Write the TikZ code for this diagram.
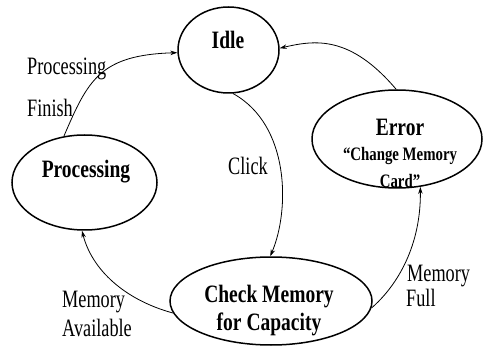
\documentclass[tikz,border=0pt]{standalone}
\usepackage{fontspec}
\usetikzlibrary{shapes.geometric,arrows.meta}
\newfontfamily\lblfont[FakeStretch=0.73]{Liberation Serif}
\newfontfamily\statefont[FakeStretch=0.78]{Liberation Serif}
\tikzset{
  state/.style={ellipse, draw, line width=1.5pt, inner sep=0pt},
  statetext/.style={anchor=base, inner sep=0pt, font=\statefont\bfseries\fontsize{25}{28}\selectfont},
  subtext/.style={anchor=base, inner sep=0pt, font=\statefont\bfseries\fontsize{19}{22}\selectfont},
  edgelabel/.style={anchor=base west, inner sep=0pt, font=\lblfont\fontsize{25}{28}\selectfont},
  trans/.style={line width=0.8pt, -{Stealth[length=7pt,width=4.5pt]}},
}
\begin{document}
\begin{tikzpicture}[x=1pt,y=-1pt]
\useasboundingbox[fill=white] (0,0) rectangle (484,347);

% states
\node[state, minimum width=101pt, minimum height=86pt] (idle) at (228.5,50) {};
\node[state, minimum width=145pt, minimum height=95pt] (proc) at (84.5,182.5) {};
\node[state, minimum width=170pt, minimum height=98pt] (err) at (397,139) {};
\node[state, minimum width=202pt, minimum height=88pt] (check) at (271,301) {};

% state names
\node[statetext] (tidle) at (228,49) {Idle};
\node[statetext] (tproc) at (86,178) {Processing};
\node[statetext] (terr) at (400,136) {Error};
\node[subtext] (terr2) at (400,161) {“Change Memory};
\node[subtext] (terr3) at (400,188) {Card”};
\node[statetext] (tcheck1) at (269,302) {Check Memory};
\node[statetext] (tcheck2) at (269,330) {for Capacity};

% transitions
\draw[trans] (proc.114) .. controls (88,80) and (100,55) .. (idle.183);
\draw[trans] (err.91) .. controls (350,35) and (315,40) .. (idle.2);
\draw[trans] (idle.276) .. controls (290,125) and (290,210) .. (check.91);
\draw[trans] (check.187) .. controls (125,300) and (92,270) .. (proc.267);
\draw[trans] (check.-4.5) .. controls (398,285) and (421,245) .. (err.-64);

% transition labels
\node[edgelabel] (lpf1) at (27,75) {Processing};
\node[edgelabel] (lpf2) at (27,117) {Finish};
\node[edgelabel, anchor=base] (lclick) at (248,175) {Click};
\node[edgelabel] (lma1) at (62,307) {Memory};
\node[edgelabel] (lma2) at (62,336) {Available};
\node[edgelabel] (lmf1) at (407,281) {Memory};
\node[edgelabel] (lmf2) at (406,306) {Full};
\end{tikzpicture}
\end{document}
